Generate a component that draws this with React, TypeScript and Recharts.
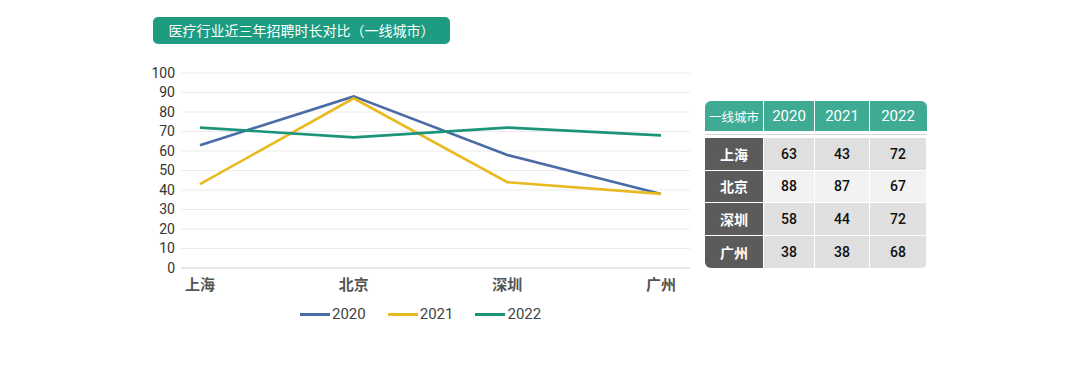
import React from 'react';
import { LineChart, Line, XAxis, YAxis, CartesianGrid } from 'recharts';

const cities = ['上海', '北京', '深圳', '广州'];
const years = ['2020', '2021', '2022'];
const v2020 = [63, 88, 58, 38];
const v2021 = [43, 87, 44, 38];
const v2022 = [72, 67, 72, 68];
const yTicks = [0, 10, 20, 30, 40, 50, 60, 70, 80, 90, 100];
const title = '医疗行业近三年招聘时长对比（一线城市）';
const tableHead = '一线城市';

const colors: Record<string, string> = { '2020': '#4a6ca6', '2021': '#e9b920', '2022': '#1c9479' };
const seriesVals: Record<string, number[]> = { '2020': v2020, '2021': v2021, '2022': v2022 };

const data = cities.map((c, i) => ({ city: c, '2020': v2020[i], '2021': v2021[i], '2022': v2022[i] }));

const FONT = 'Roboto, "Noto Sans CJK SC", sans-serif';
const CJK = '"Noto Sans CJK SC", Roboto, sans-serif';

const colW = [59, 51, 55, 56];
const rowBg = ['#dfdfdf', '#f2f2f2', '#e0e0e0', '#dfdfdf'];

export default function App() {
  return (
    <div style={{ position: 'absolute', left: 0, top: 0, width: 1080, height: 368, background: '#fff', overflow: 'hidden' }}>
      <div
        style={{
          position: 'absolute', left: 153, top: 17, width: 297, height: 27, background: '#1d9c82', borderRadius: 5,
          color: '#fff', fontFamily: CJK, fontSize: 14, lineHeight: '27px', textAlign: 'center', whiteSpace: 'nowrap',
        }}
      >
        {title}
      </div>
      <div style={{ position: 'absolute', left: 0, top: 0 }}>
        <LineChart width={1080} height={368} data={data} margin={{ top: 73, right: 390, left: 0, bottom: 70 }}>
          <CartesianGrid vertical={false} stroke="#ebebeb" />
          <XAxis
            dataKey="city"
            padding={{ left: 19, right: 29 }}
            axisLine={{ stroke: '#d9d9d9' }}
            tickLine={false}
            tick={{ fill: '#555', fontSize: 15, fontWeight: 700, fontFamily: CJK }}
            tickMargin={5}
            height={30}
          />
          <YAxis
            width={181}
            domain={[0, 100]}
            ticks={yTicks}
            interval={0}
            axisLine={false}
            tickLine={false}
            tickMargin={0}
            tick={{ fill: '#333', fontSize: 14, fontFamily: FONT }}
          />
          {years.map((y) => (
            <Line key={y} type="linear" dataKey={y} stroke={colors[y]} strokeWidth={2.6} dot={false} isAnimationActive={false} />
          ))}
        </LineChart>
      </div>
      <div style={{ position: 'absolute', left: 300, top: 305, display: 'flex', alignItems: 'center', fontFamily: FONT, fontSize: 15, color: '#444' }}>
        {years.map((y) => (
          <div key={y} style={{ display: 'flex', alignItems: 'center', marginRight: 22 }}>
            <div style={{ width: 30, height: 3, background: colors[y], marginRight: 2 }} />
            <span>{y}</span>
          </div>
        ))}
      </div>
      <div style={{ position: 'absolute', left: 705, top: 101, width: 222, borderRadius: 6, overflow: 'hidden', fontFamily: FONT }}>
        <div style={{ display: 'flex', height: 30, background: '#3fab94' }}>
          {[tableHead, ...years].map((h, i) => (
            <div
              key={h}
              style={{
                width: colW[i], borderRight: i < 3 ? '1.5px solid #fff' : 'none', color: '#fff',
                fontSize: i === 0 ? 12.5 : 15, fontFamily: i === 0 ? CJK : FONT,
                display: 'flex', alignItems: 'center', justifyContent: 'center', boxSizing: 'border-box',
              }}
            >
              {h}
            </div>
          ))}
        </div>
        <div style={{ height: 7, background: '#fff', position: 'relative' }}>
          <div style={{ position: 'absolute', left: 0, right: 0, top: 2.5, height: 1.5, background: '#d8d8d8' }} />
        </div>
        {cities.map((c, r) => (
          <div key={c} style={{ display: 'flex', height: 32.5, borderBottom: r < 3 ? '1.5px solid #fff' : 'none', boxSizing: 'border-box' }}>
            <div
              style={{
                width: colW[0], background: '#5b5b5b', color: '#fff', fontFamily: CJK, fontWeight: 700, fontSize: 14,
                display: 'flex', alignItems: 'center', justifyContent: 'center', borderRight: '1.5px solid #fff', boxSizing: 'border-box',
              }}
            >
              {c}
            </div>
            {years.map((y, j) => (
              <div
                key={y}
                style={{
                  width: colW[j + 1], background: rowBg[r], color: '#111', fontWeight: 500, fontSize: 14,
                  display: 'flex', alignItems: 'center', justifyContent: 'center',
                  borderRight: j < 2 ? '1.5px solid #fff' : 'none', boxSizing: 'border-box',
                }}
              >
                {seriesVals[y][r]}
              </div>
            ))}
          </div>
        ))}
      </div>
    </div>
  );
}
